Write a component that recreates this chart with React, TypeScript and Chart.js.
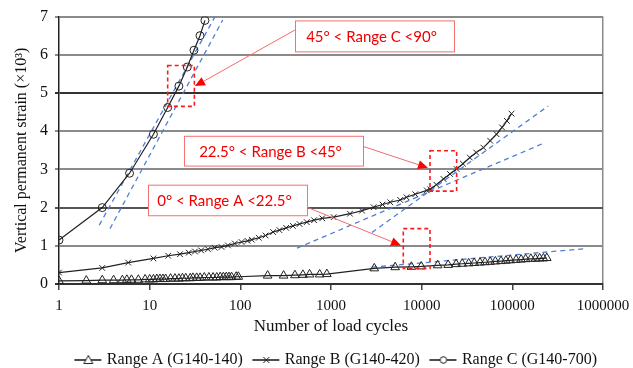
import React, { useEffect, useRef } from "react";
import { Chart, registerables } from "chart.js";
Chart.register(...registerables);

// ---------- data ----------
const xTickValues = [1, 10, 100, 1000, 10000, 100000, 1000000];
const xTickLabels = ["1", "10", "100", "1000", "10000", "100000", "1000000"];
const yTickValues = [0, 1, 2, 3, 4, 5, 6, 7];

const seriesNames = ["Range A (G140-140)", "Range B (G140-420)", "Range C (G140-700)"];

const rangeACycles = [1, 2, 3, 4, 5, 5.6, 6.3, 7.5, 8.9, 10, 11, 12, 13, 14, 15, 17, 19, 21, 23, 25, 28, 30, 33, 36, 40, 45, 50, 55, 60, 65, 70, 75, 80, 90, 95, 200, 300, 400, 490, 580, 750, 900, 3000, 5100, 7700, 9900, 15000, 19600, 24000, 28000, 33000, 38000, 44000, 50000, 57000, 65000, 75000, 85000, 95000, 110000, 125000, 140000, 160000, 180000, 200000, 220000, 240000];
const rangeAStrain = [0.08, 0.09, 0.1, 0.1, 0.1, 0.11, 0.11, 0.11, 0.12, 0.12, 0.12, 0.13, 0.13, 0.13, 0.13, 0.14, 0.14, 0.14, 0.15, 0.15, 0.15, 0.16, 0.16, 0.16, 0.17, 0.17, 0.17, 0.17, 0.18, 0.18, 0.18, 0.18, 0.18, 0.19, 0.19, 0.22, 0.22, 0.23, 0.24, 0.25, 0.25, 0.26, 0.41, 0.44, 0.45, 0.46, 0.49, 0.5, 0.52, 0.53, 0.54, 0.55, 0.56, 0.57, 0.58, 0.59, 0.6, 0.61, 0.62, 0.63, 0.64, 0.65, 0.66, 0.66, 0.67, 0.67, 0.68];

const rangeBCycles = [1, 3, 5.8, 11, 16, 21.6, 27, 31.6, 37, 44, 52, 62, 73, 87, 103, 120, 134, 160, 190, 230, 270, 320, 380, 450, 540, 650, 800, 1070, 1620, 2200, 2950, 3700, 4500, 5800, 6800, 8500, 11400, 12400, 14500, 17400, 20500, 24300, 28500, 34000, 40000, 48000, 57000, 67000, 77000, 87000, 98000];
const rangeBStrain = [0.3, 0.42, 0.56, 0.67, 0.74, 0.78, 0.82, 0.85, 0.88, 0.91, 0.95, 0.97, 1.01, 1.06, 1.1, 1.13, 1.16, 1.21, 1.27, 1.36, 1.41, 1.47, 1.52, 1.57, 1.62, 1.67, 1.72, 1.75, 1.84, 1.92, 2.01, 2.08, 2.14, 2.2, 2.27, 2.35, 2.45, 2.48, 2.6, 2.75, 2.88, 3.01, 3.15, 3.31, 3.44, 3.57, 3.75, 3.92, 4.1, 4.27, 4.46];

const rangeCCycles = [1, 3, 6, 11, 15.8, 21, 26, 30.8, 35.9, 40.7];
const rangeCStrain = [1.15, 2.0, 2.9, 3.92, 4.62, 5.18, 5.68, 6.12, 6.5, 6.9];

// tangent (dashed) lines
const tangentC1Cycles = [2.78, 52.6];
const tangentC1Strain = [1.54, 7.0];
const tangentC2Cycles = [3.65, 63.9];
const tangentC2Strain = [1.45, 6.91];
const tangentB1Cycles = [422, 219000];
const tangentB1Strain = [0.94, 3.68];
const tangentB2Cycles = [2830, 249000];
const tangentB2Strain = [1.35, 4.66];
const tangentACycles = [2830, 607000];
const tangentAStrain = [0.44, 0.92];

// callouts
const calloutTexts = ["45° < Range C <90°", "22.5° < Range B <45°", "0° < Range A <22.5°"];
const calloutBoxCycles = [[401, 22740], [23.9, 2254], [9.59, 543]];
const calloutBoxStrain = [[6.9, 6.09], [3.88, 3.1], [2.6, 1.8]];
const arrowFromCycles = [401, 2270, 543];
const arrowFromStrain = [6.65, 3.6, 2.01];
const arrowToCycles = [31.6, 11740, 5915];
const arrowToStrain = [5.18, 3.04, 1.01];
const focusBoxCycles = [[15.8, 31.1], [12360, 24300], [6270, 12360]];
const focusBoxStrain = [[5.72, 4.65], [3.49, 2.43], [1.45, 0.41]];

// ---------- helpers ----------
const toPoints = (xs: number[], ys: number[]) => xs.map((x, i) => ({ x, y: ys[i] }));

const markerStyles = ["triangle", "crossRot", "circle"];
const markerRadii = [5, 4, 4];

function legendIcon(style: string): HTMLCanvasElement {
  const c = document.createElement("canvas");
  c.width = 32;
  c.height = 14;
  const g = c.getContext("2d")!;
  const cx = 18;
  g.strokeStyle = "#222";
  g.lineWidth = 1.6;
  g.beginPath();
  g.moveTo(4, 7);
  g.lineTo(31, 7);
  g.stroke();
  g.lineWidth = 1;
  g.fillStyle = "#fff";
  g.beginPath();
  if (style === "triangle") {
    g.moveTo(cx, 2.5);
    g.lineTo(cx + 4.5, 10.5);
    g.lineTo(cx - 4.5, 10.5);
    g.closePath();
    g.fill();
    g.stroke();
  } else if (style === "crossRot") {
    g.moveTo(cx - 3, 4);
    g.lineTo(cx + 3, 10);
    g.moveTo(cx + 3, 4);
    g.lineTo(cx - 3, 10);
    g.stroke();
  } else {
    g.arc(cx, 7, 3.3, 0, Math.PI * 2);
    g.fill();
    g.stroke();
  }
  return c;
}

const calloutPlugin = {
  id: "callouts",
  afterDatasetsDraw(chart: any) {
    const { ctx, scales } = chart;
    const xs = scales.x;
    const ys = scales.y;
    ctx.save();
    focusBoxCycles.forEach((cx, i) => {
      const x1 = xs.getPixelForValue(cx[0]);
      const x2 = xs.getPixelForValue(cx[1]);
      const y1 = ys.getPixelForValue(focusBoxStrain[i][0]);
      const y2 = ys.getPixelForValue(focusBoxStrain[i][1]);
      ctx.setLineDash([4, 3]);
      ctx.strokeStyle = "#ff1a1a";
      ctx.lineWidth = 1.6;
      ctx.strokeRect(x1, y1, x2 - x1, y2 - y1);
    });
    ctx.setLineDash([]);
    arrowFromCycles.forEach((fc, i) => {
      const sx = xs.getPixelForValue(fc);
      const sy = ys.getPixelForValue(arrowFromStrain[i]);
      const tx = xs.getPixelForValue(arrowToCycles[i]);
      const ty = ys.getPixelForValue(arrowToStrain[i]);
      const ang = Math.atan2(ty - sy, tx - sx);
      const L = 10;
      const W = 4.5;
      const bx = tx - L * Math.cos(ang);
      const by = ty - L * Math.sin(ang);
      ctx.strokeStyle = "#f46a6a";
      ctx.lineWidth = 1;
      ctx.beginPath();
      ctx.moveTo(sx, sy);
      ctx.lineTo(bx, by);
      ctx.stroke();
      ctx.fillStyle = "#ff0000";
      ctx.beginPath();
      ctx.moveTo(tx, ty);
      ctx.lineTo(bx - W * Math.sin(ang), by + W * Math.cos(ang));
      ctx.lineTo(bx + W * Math.sin(ang), by - W * Math.cos(ang));
      ctx.closePath();
      ctx.fill();
    });
    calloutTexts.forEach((t, i) => {
      const x1 = xs.getPixelForValue(calloutBoxCycles[i][0]);
      const x2 = xs.getPixelForValue(calloutBoxCycles[i][1]);
      const y1 = ys.getPixelForValue(calloutBoxStrain[i][0]);
      const y2 = ys.getPixelForValue(calloutBoxStrain[i][1]);
      ctx.fillStyle = "#ffffff";
      ctx.fillRect(x1, y1, x2 - x1, y2 - y1);
      ctx.strokeStyle = "#f47070";
      ctx.lineWidth = 1;
      ctx.strokeRect(x1 + 0.5, y1 + 0.5, x2 - x1, y2 - y1);
      ctx.fillStyle = "#f00000";
      ctx.font = "15px Lato";
      ctx.textAlign = "center";
      ctx.textBaseline = "middle";
      ctx.fillText(t, (x1 + x2) / 2 - 3, (y1 + y2) / 2 + 1);
    });
    ctx.restore();
  },
};

const yGridColors = ["#333", "#8a8a8a", "#555", "#8a8a8a", "#8a8a8a", "#333", "#8a8a8a", "#8a8a8a"];

export default function App() {
  const ref = useRef<HTMLCanvasElement>(null);
  useEffect(() => {
    if (!ref.current) return;
    Chart.defaults.font.family = "'Liberation Serif', 'Times New Roman', serif";
    const mainLine = (i: number, xs: number[], ys: number[]) => ({
      label: seriesNames[i],
      data: toPoints(xs, ys),
      borderColor: "#222",
      borderWidth: 1.2,
      backgroundColor: "rgba(0,0,0,0)",
      pointStyle: markerStyles[i],
      pointRadius: markerRadii[i],
      pointBorderWidth: 1,
      pointBorderColor: "#222",
      pointBackgroundColor: "rgba(255,255,255,0)",
      tension: 0,
      order: 1,
    });
    const dashLine = (xs: number[], ys: number[]) => ({
      label: "tangent",
      data: toPoints(xs, ys),
      borderColor: "#4f7fd6",
      borderWidth: 1.3,
      borderDash: [5, 4],
      pointRadius: 0,
      tension: 0,
      order: 2,
    });
    const chart = new Chart(ref.current, {
      type: "line",
      data: {
        datasets: [
          mainLine(0, rangeACycles, rangeAStrain),
          mainLine(1, rangeBCycles, rangeBStrain),
          mainLine(2, rangeCCycles, rangeCStrain),
          dashLine(tangentC1Cycles, tangentC1Strain),
          dashLine(tangentC2Cycles, tangentC2Strain),
          dashLine(tangentB1Cycles, tangentB1Strain),
          dashLine(tangentB2Cycles, tangentB2Strain),
          dashLine(tangentACycles, tangentAStrain),
        ] as any,
      },
      options: {
        animation: false,
        responsive: false,
        layout: { padding: { top: 15, right: 27, left: 0, bottom: -10 } },
        plugins: {
          tooltip: { enabled: false },
          legend: {
            position: "bottom",
            align: "end",
            labels: {
              usePointStyle: true,
              pointStyleWidth: 25,
              padding: 9,
              color: "#111",
              font: { size: 16 },
              generateLabels: () =>
                seriesNames.map((n, i) => ({
                  text: n,
                  datasetIndex: i,
                  hidden: false,
                  fillStyle: "#fff",
                  strokeStyle: "#222",
                  lineWidth: 1,
                  fontColor: "#111",
                  pointStyle: legendIcon(markerStyles[i]),
                })) as any,
            },
          },
        },
        scales: {
          x: {
            type: "logarithmic",
            min: 1,
            max: 1000000,
            afterBuildTicks: (s: any) => {
              s.ticks = xTickValues.map((v) => ({ value: v }));
            },
            afterFit: (s: any) => {
              s.height = 59;
              s.paddingRight = 30;
              s.paddingLeft = 0;
            },
            ticks: {
              autoSkip: false,
              maxRotation: 0,
              padding: 7,
              color: "#111",
              font: { size: 15 },
              callback: (_v: any, i: number) => xTickLabels[i],
            },
            grid: {
              drawOnChartArea: true,
              color: (c: any) => (c.index === xTickValues.length - 1 ? "#8a8a8a" : "rgba(0,0,0,0)"),
              tickColor: "#444",
              tickLength: 6,
              lineWidth: 1.5,
            },
            border: { display: true, color: "#333", width: 1.5 },
            title: {
              display: true,
              text: "Number of load cycles",
              color: "#111",
              font: { size: 17 },
              padding: { top: 0, bottom: 6 },
            },
          },
          y: {
            min: 0,
            max: 7,
            afterBuildTicks: (s: any) => {
              s.ticks = yTickValues.map((v) => ({ value: v }));
            },
            afterFit: (s: any) => {
              s.width = 59;
            },
            ticks: {
              padding: 7,
              color: "#111",
              font: { size: 16 },
            },
            grid: {
              color: (c: any) => yGridColors[c.index] ?? "#8a8a8a",
              lineWidth: 2,
              tickLength: 4,
            },
            border: { display: true, color: "#222", width: 1.5 },
            title: {
              display: true,
              text: "Vertical permanent strain (×10³)",
              color: "#111",
              font: { size: 16 },
              padding: { top: 12, bottom: 0 },
            },
          },
        },
      },
      plugins: [calloutPlugin],
    });
    return () => chart.destroy();
  }, []);
  return (
    <div style={{ position: "fixed", left: 0, top: 0, width: 633, height: 368, background: "#fff" }}>
      <canvas ref={ref} width={633} height={368} />
    </div>
  );
}
